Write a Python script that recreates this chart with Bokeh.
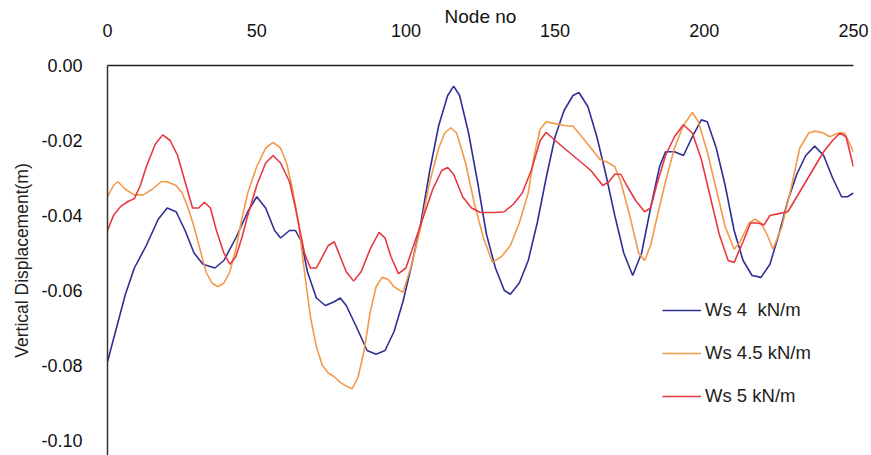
from bokeh.plotting import figure
from bokeh.models import FixedTicker, NumeralTickFormatter, Legend, LegendItem
from bokeh.embed import file_html
from bokeh.resources import INLINE

# ---- data ----
blue_x = [0, 3, 6, 9, 13, 17, 20, 23, 26, 29, 32, 36, 39, 43, 47, 50, 53, 56, 58, 61, 63, 65, 67, 70, 73, 76, 78,
          80, 83, 87, 90, 93, 96, 99, 102, 105, 108, 111, 114, 116, 118, 121, 124, 127, 130, 133, 135, 138, 141,
          144, 147, 150, 153, 156, 158, 161, 164, 167, 170, 173, 176, 179, 182, 185, 187, 190, 193, 196, 199, 201,
          204, 207, 210, 213, 216, 219, 222, 225, 228, 231, 234, 237, 240, 243, 246, 248, 250]
blue_y = [-0.079, -0.070, -0.061, -0.054, -0.048, -0.041, -0.038, -0.039, -0.044, -0.050, -0.053, -0.054, -0.052,
          -0.046, -0.039, -0.035, -0.038, -0.044, -0.046, -0.044, -0.044, -0.047, -0.055, -0.062, -0.064, -0.063,
          -0.062, -0.064, -0.069, -0.076, -0.077, -0.076, -0.071, -0.063, -0.053, -0.042, -0.028, -0.016, -0.008,
          -0.0055, -0.008, -0.018, -0.031, -0.045, -0.054, -0.060, -0.061, -0.058, -0.052, -0.042, -0.030, -0.019,
          -0.012, -0.008, -0.0072, -0.011, -0.019, -0.029, -0.040, -0.050, -0.056, -0.050, -0.038, -0.027, -0.023,
          -0.023, -0.024, -0.019, -0.0145, -0.015, -0.022, -0.032, -0.044, -0.052, -0.056, -0.0565, -0.053, -0.045,
          -0.036, -0.029, -0.024, -0.0215, -0.024, -0.030, -0.035, -0.035, -0.034]

orange_x = [0, 2, 3.5, 6, 9, 12, 15, 18, 20, 23, 25, 27, 29, 31, 33, 35, 37, 39, 41, 43, 45, 47, 50, 53, 55.5, 58,
            60, 62, 64, 66, 68, 70, 72, 74, 76, 78, 80, 82, 84, 86, 88, 90, 92, 94, 96, 99, 102, 105, 108, 111, 113,
            115, 117, 120, 123, 126, 129, 132, 135, 138, 141, 143, 145, 147, 150, 153, 156, 159, 162, 165, 168, 170,
            172, 175, 178, 180, 182, 184, 187, 190, 193, 196, 198, 201, 204, 207, 210, 212, 215, 217, 219, 221, 223,
            226, 229, 232, 235, 237, 240, 242, 245, 247, 250]
orange_y = [-0.035, -0.032, -0.031, -0.033, -0.0345, -0.0345, -0.033, -0.031, -0.031, -0.032, -0.034, -0.038,
            -0.043, -0.049, -0.055, -0.058, -0.059, -0.058, -0.055, -0.049, -0.041, -0.034, -0.027, -0.022, -0.0205,
            -0.022, -0.026, -0.033, -0.042, -0.055, -0.067, -0.075, -0.080, -0.082, -0.083, -0.0845, -0.0855,
            -0.0862, -0.083, -0.076, -0.066, -0.059, -0.0565, -0.057, -0.059, -0.0605, -0.053, -0.043, -0.031,
            -0.022, -0.018, -0.0166, -0.018, -0.026, -0.037, -0.046, -0.0525, -0.051, -0.048, -0.042, -0.034,
            -0.024, -0.017, -0.015, -0.0155, -0.016, -0.0162, -0.019, -0.022, -0.025, -0.026, -0.027, -0.031,
            -0.040, -0.050, -0.052, -0.048, -0.041, -0.031, -0.022, -0.016, -0.0125, -0.015, -0.023, -0.033,
            -0.043, -0.049, -0.047, -0.042, -0.041, -0.042, -0.045, -0.049, -0.043, -0.033, -0.022, -0.018,
            -0.0175, -0.018, -0.019, -0.018, -0.018, -0.023]

red_x = [0, 2, 4.5, 7, 9, 11, 13, 16, 18.5, 21, 23.5, 26, 28.5, 30.5, 32.5, 34.5, 36.5, 39, 41, 43, 45, 47, 50, 53,
         55.5, 58, 61, 63, 66, 68, 70, 72, 74, 76, 78, 80, 82.5, 85, 88, 91, 93, 95, 97.5, 100, 103, 106, 109, 112,
         114, 116, 119, 122, 125, 130, 133, 136, 139, 142, 145, 147, 150, 153, 156, 159, 162, 164, 166, 168, 170,
         172, 174, 177, 180, 182, 184, 187, 190, 193, 196, 199, 202, 205, 208, 210, 213, 215.5, 218, 220, 222, 225,
         228, 231, 234, 237, 240, 243, 245.5, 247.5, 250]
red_y = [-0.044, -0.040, -0.0375, -0.0362, -0.0355, -0.032, -0.027, -0.021, -0.0185, -0.020, -0.024, -0.031,
         -0.038, -0.038, -0.0365, -0.038, -0.044, -0.050, -0.053, -0.051, -0.046, -0.040, -0.032, -0.026, -0.024,
         -0.026, -0.031, -0.038, -0.050, -0.054, -0.054, -0.051, -0.048, -0.047, -0.051, -0.055, -0.0575, -0.055,
         -0.049, -0.0445, -0.046, -0.051, -0.0555, -0.054, -0.047, -0.040, -0.033, -0.028, -0.0272, -0.029, -0.035,
         -0.038, -0.0392, -0.0392, -0.039, -0.037, -0.034, -0.028, -0.020, -0.0178, -0.020, -0.022, -0.024, -0.026,
         -0.028, -0.030, -0.032, -0.031, -0.029, -0.029, -0.032, -0.036, -0.039, -0.038, -0.032, -0.024, -0.019,
         -0.0158, -0.018, -0.025, -0.035, -0.045, -0.052, -0.0525, -0.047, -0.042, -0.042, -0.0425, -0.040, -0.0395,
         -0.039, -0.035, -0.031, -0.027, -0.023, -0.020, -0.018, -0.019, -0.027]

series_names = ["Ws 4  kN/m", "Ws 4.5 kN/m", "Ws 5 kN/m"]
x_ticks = [0, 50, 100, 150, 200, 250]
y_ticks = [0.0, -0.02, -0.04, -0.06, -0.08, -0.10]

FONT = "Liberation Sans"

p = figure(width=871, height=455, x_range=(0, 250), y_range=(-0.104, 0.0),
           x_axis_location="above", output_backend="svg", toolbar_location=None,
           min_border_left=107, min_border_right=18, min_border_top=65, min_border_bottom=0)
p.outline_line_color = None
p.grid.visible = False
p.background_fill_color = "white"
p.border_fill_color = "white"

# top x axis
xa = p.xaxis[0]
xa.ticker = FixedTicker(ticks=x_ticks)
xa.axis_label = "Node no"
xa.axis_label_text_font = FONT
xa.axis_label_text_font_style = "normal"
xa.axis_label_text_font_size = "19px"
xa.axis_label_text_color = "#111111"
xa.axis_label_standoff = -6
xa.major_label_text_font = FONT
xa.major_label_text_font_size = "18px"
xa.major_label_text_color = "#111111"
xa.major_label_standoff = 23
xa.major_tick_line_color = None
xa.minor_tick_line_color = None
xa.axis_line_color = "#222222"
xa.axis_line_width = 1.5

ya = p.yaxis[0]
ya.ticker = FixedTicker(ticks=y_ticks)
ya.formatter = NumeralTickFormatter(format="0.00")
ya.axis_label = "Vertical Displacement(m)"
ya.axis_label_text_font = FONT
ya.axis_label_text_font_style = "normal"
ya.axis_label_text_font_size = "17.5px"
ya.axis_label_text_color = "#222222"
ya.axis_label_standoff = 6
ya.major_label_text_font = FONT
ya.major_label_text_font_size = "18px"
ya.major_label_text_color = "#111111"
ya.major_label_standoff = 19
ya.major_tick_line_color = None
ya.minor_tick_line_color = None
ya.axis_line_color = "#333333"
ya.axis_line_width = 1.5

r1 = p.line(blue_x, blue_y, line_color="#2f2f96", line_width=1.6)
r2 = p.line(orange_x, orange_y, line_color="#f29a4a", line_width=1.6)
r3 = p.line(red_x, red_y, line_color="#e8383f", line_width=1.6)

legend = Legend(items=[LegendItem(label=series_names[0], renderers=[r1]),
                       LegendItem(label=series_names[1], renderers=[r2]),
                       LegendItem(label=series_names[2], renderers=[r3])],
                location=(555, 48), border_line_color=None, background_fill_alpha=0,
                padding=0, margin=0, spacing=21, glyph_width=39, glyph_height=20,
                label_height=20, label_standoff=4,
                label_text_font=FONT, label_text_font_size="18.5px", label_text_color="#222222")
p.add_layout(legend)

open("out.html", "w").write(file_html(p, INLINE))
